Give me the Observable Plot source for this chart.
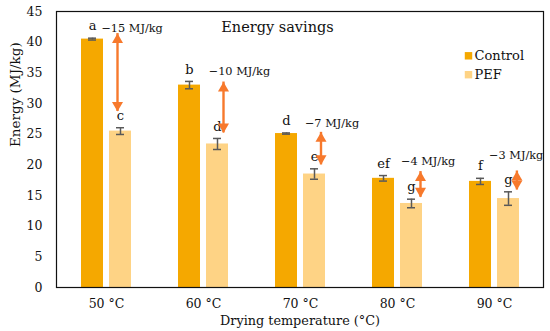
<!DOCTYPE html>
<html>
<head>
<meta charset="utf-8">
<script src="https://cdn.jsdelivr.net/npm/d3@7"></script>
<script src="https://cdn.jsdelivr.net/npm/@observablehq/plot@0.6"></script>
<style>
  html, body { margin: 0; padding: 0; background: #fff; }
</style>
</head>
<body>
<div id="chart"></div>
<script>
// ---- data ----
const temps = ["50 °C", "60 °C", "70 °C", "80 °C", "90 °C"];
const series = ["Control", "PEF"];
const controlVals = [40.5, 33.0, 25.1, 17.8, 17.3];
const controlErr = [0.15, 0.6, 0.1, 0.45, 0.5];
const pefVals = [25.5, 23.4, 18.5, 13.7, 14.5];
const pefErr = [0.55, 0.9, 0.85, 0.7, 1.1];
const controlLetters = ["a", "b", "d", "ef", "f"];
const pefLetters = ["c", "d", "e", "g", "g"];
const savingLabels = ["\u221215 MJ/kg", "\u221210 MJ/kg", "\u22127 MJ/kg", "\u22124 MJ/kg", "\u22123 MJ/kg"];
const arrowTop = [41.4, 33.5, 25.3, 18.9, 19.0];
const arrowBottom = [28.7, 25.2, 20.0, 14.7, 15.9];
const labelAt = [42.2, 35.3, 26.7, 20.6, 21.5];
const yTicks = [0, 5, 10, 15, 20, 25, 30, 35, 40, 45];
const title = "Energy savings";
const xLabel = "Drying temperature (°C)";
const yLabel = "Energy (MJ/kg)";

// ---- styles ----
const colors = ["#F5A800", "#FED385"];
const arrowColor = "#F7792C";
const errColor = "#595959";
const arrowDx = [11, 20, 20.5, 23, 22.4];
const labelDx = [25.6, 35.9, 31.5, 30.6, 21.7];
const font = "DejaVu Serif";

const rows = [];
temps.forEach((t, i) => {
  rows.push({temp: t, series: series[0], value: controlVals[i], err: controlErr[i], letter: controlLetters[i]});
  rows.push({temp: t, series: series[1], value: pefVals[i], err: pefErr[i], letter: pefLetters[i]});
});
const ctrl = rows.filter(d => d.series === series[0]);
const pef = rows.filter(d => d.series === series[1]);
const ann = temps.map((t, i) => ({temp: t, top: arrowTop[i], bottom: arrowBottom[i], label: savingLabels[i], at: labelAt[i]}));

function errMarks(data, off) {
  return [
    Plot.ruleX(data, {x: "temp", y1: d => d.value - d.err, y2: d => d.value + d.err, dx: off, stroke: errColor, strokeWidth: 1.5}),
    Plot.tickY(data, {x: "temp", y: d => d.value - d.err, stroke: errColor, strokeWidth: 1.5,
      insetLeft: off < 0 ? 7 : 35, insetRight: off < 0 ? 35 : 7}),
    Plot.tickY(data, {x: "temp", y: d => d.value + d.err, stroke: errColor, strokeWidth: 1.5,
      insetLeft: off < 0 ? 7 : 35, insetRight: off < 0 ? 35 : 7}),
    Plot.text(data, {x: "temp", y: d => d.value + d.err, text: "letter", dx: off, dy: -12,
      lineAnchor: "middle", fontSize: 13, fill: "#111"})
  ];
}

const arrowMarks = ann.flatMap((a, i) => [
  Plot.ruleX([a], {x: "temp", y1: "top", y2: "bottom", dx: arrowDx[i], stroke: arrowColor, strokeWidth: 2.4}),
  Plot.dot([a], {x: "temp", y: "top", dx: arrowDx[i], dy: 6.3, symbol: "triangle", r: 4.1, fill: arrowColor, stroke: "none"}),
  Plot.dot([a], {x: "temp", y: "bottom", dx: arrowDx[i], dy: -6.3, symbol: "triangle", rotate: 180, r: 4.1, fill: arrowColor, stroke: "none"}),
  Plot.text([a], {x: "temp", y: "at", text: "label", dx: labelDx[i], lineAnchor: "middle", fontSize: 11.3, fill: "#111"})
]);

const chart = Plot.plot({
  width: 550,
  height: 331,
  marginLeft: 56,
  marginRight: 7,
  marginTop: 11,
  marginBottom: 44,
  style: {fontFamily: font, fontSize: "12.5px", color: "#111", background: "#fff"},
  x: {domain: temps, paddingInner: 0.487, paddingOuter: 0.2435, label: null, tickSize: 0, tickPadding: 12},
  y: {domain: [0, 45], ticks: yTicks, label: null, tickSize: 0, tickPadding: 14},
  color: {domain: series, range: colors},
  marks: [
    Plot.barY(ctrl, {x: "temp", y: "value", fill: "series", insetRight: 28}),
    Plot.barY(pef, {x: "temp", y: "value", fill: "series", insetLeft: 28}),
    ...errMarks(ctrl, -14),
    ...errMarks(pef, 14),
    ...arrowMarks,
    Plot.frame({stroke: "#111", strokeWidth: 1.2}),
    Plot.text([title], {frameAnchor: "top", dx: -22.5, dy: 16, lineAnchor: "middle", fontSize: 14.5, fill: "#111"}),
    Plot.dot([series[0]], {frameAnchor: "top-right", dx: -75, dy: 44.3, symbol: "square", r: 4.2, fill: d => d, stroke: "none"}),
    Plot.dot([series[1]], {frameAnchor: "top-right", dx: -75, dy: 63.2, symbol: "square", r: 4.2, fill: d => d, stroke: "none"}),
    Plot.text([series[0]], {frameAnchor: "top-right", dx: -69, dy: 44.5, textAnchor: "start", lineAnchor: "middle", fontSize: 13, fill: "#111"}),
    Plot.text([series[1]], {frameAnchor: "top-right", dx: -69, dy: 63.5, textAnchor: "start", lineAnchor: "middle", fontSize: 13, fill: "#111"}),
    Plot.text([xLabel], {frameAnchor: "bottom", dy: 33.5, lineAnchor: "middle", fontSize: 12.8, fill: "#111"}),
    Plot.text([yLabel], {frameAnchor: "left", dx: -41, dy: -2.5, rotate: -90, lineAnchor: "middle", fontSize: 13.5, fill: "#111"})
  ]
});
document.getElementById("chart").appendChild(chart);
</script>
</body>
</html>
